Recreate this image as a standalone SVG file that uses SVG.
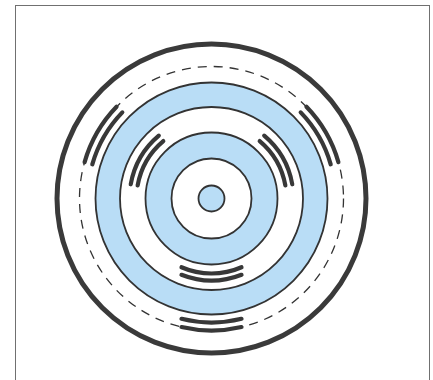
<svg xmlns="http://www.w3.org/2000/svg" width="433" height="380" viewBox="0 0 433 380">
<style>
.ring{stroke:#333;stroke-width:1.8}
.blue{fill:#b9ddf6}
.white{fill:#fff}
.arc{fill:none;stroke:#383838;stroke-width:4.2;stroke-linecap:round}
</style>
<rect x="0" y="0" width="433" height="380" fill="#fff"/>
<rect x="15.5" y="5.5" width="414" height="400" fill="#fff" stroke="#707070" stroke-width="1"/>
<g id="disc">
<circle cx="211.5" cy="198.5" r="154.5" fill="#fff" stroke="#3a3a3a" stroke-width="5"/>
<circle cx="211.5" cy="198.5" r="132" fill="none" stroke="#333" stroke-width="1.3" stroke-dasharray="9 7"/>
<circle class="ring blue" cx="211.5" cy="198.5" r="116"/>
<circle class="ring white" cx="211.5" cy="198.5" r="91.5"/>
<circle class="ring blue" cx="211.5" cy="198.5" r="66"/>
<circle class="ring white" cx="211.5" cy="198.5" r="40"/>
<circle class="ring blue" cx="211.5" cy="198.5" r="13"/>
</g>
<g id="arcs">
<path class="arc" d="M259.71 141.05A75 75 0 0 1 285.36 185.48"/>
<path class="arc" d="M264.21 135.69A82 82 0 0 1 292.25 184.26"/>
<path class="arc" d="M137.64 185.48A75 75 0 0 1 163.29 141.05"/>
<path class="arc" d="M130.75 184.26A82 82 0 0 1 158.79 135.69"/>
<path class="arc" d="M241.5 267.24A75 75 0 0 1 181.5 267.24"/>
<path class="arc" d="M241.5 274.82A82 82 0 0 1 181.5 274.82"/>
<path class="arc" d="M300.7 112.36A124 124 0 0 1 330.7 164.32"/>
<path class="arc" d="M306.45 106.8A132 132 0 0 1 338.39 162.12"/>
<path class="arc" d="M92.3 164.32A124 124 0 0 1 122.3 112.36"/>
<path class="arc" d="M84.61 162.12A132 132 0 0 1 116.55 106.8"/>
<path class="arc" d="M241.5 318.82A124 124 0 0 1 181.5 318.82"/>
<path class="arc" d="M241.5 327.05A132 132 0 0 1 181.5 327.05"/>
</g>
</svg>
